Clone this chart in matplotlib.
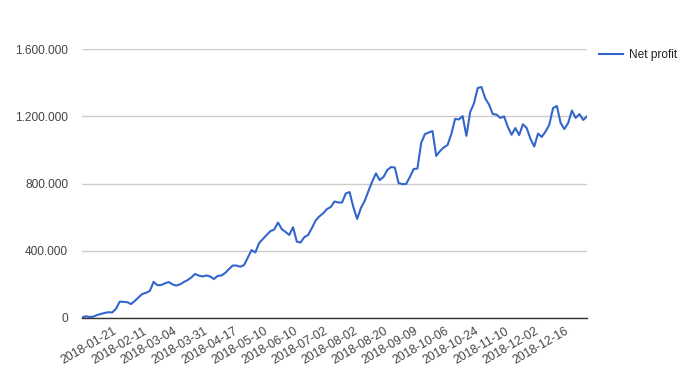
import numpy as np
import matplotlib.pyplot as plt
from matplotlib.ticker import FuncFormatter

# net profit series (one value per category)
net_profit = [3000, 10000, 6000, 8000, 18000, 24000, 30000, 34000, 33000, 54000,
              97000, 96000, 94000, 83000, 101000, 123000, 143000, 150000, 161000, 215000,
              195000, 196000, 206000, 214000, 200000, 193000, 200000, 214000, 225000, 241000,
              262000, 252000, 247000, 253000, 247000, 232000, 250000, 253000, 268000, 291000,
              312000, 312000, 305000, 315000, 360000, 404000, 390000, 446000, 470000, 494000,
              517000, 526000, 568000, 529000, 512000, 494000, 540000, 454000, 449000, 481000,
              494000, 535000, 580000, 605000, 623000, 648000, 660000, 693000, 687000, 687000,
              741000, 749000, 660000, 589000, 654000, 696000, 755000, 811000, 860000, 820000,
              839000, 880000, 898000, 895000, 803000, 796000, 797000, 839000, 886000, 889000,
              1041000, 1094000, 1103000, 1112000, 964000, 993000, 1015000, 1029000, 1094000, 1184000,
              1181000, 1201000, 1083000, 1225000, 1276000, 1368000, 1374000, 1306000, 1270000, 1213000,
              1210000, 1190000, 1199000, 1136000, 1090000, 1130000, 1088000, 1152000, 1130000, 1065000,
              1020000, 1097000, 1077000, 1109000, 1150000, 1249000, 1261000, 1160000, 1124000, 1160000,
              1234000, 1190000, 1213000, 1178000, 1199000]

tick_labels = ["2018-01-21", "2018-02-11", "2018-03-04", "2018-03-31", "2018-04-17",
               "2018-05-10", "2018-06-10", "2018-07-02", "2018-08-02", "2018-08-20",
               "2018-09-09", "2018-10-06", "2018-10-24", "2018-11-10", "2018-12-02",
               "2018-12-16"]
y_ticks = [0, 400000, 800000, 1200000, 1600000]

plt.rcParams['font.family'] = ['Liberation Sans', 'DejaVu Sans']

fig = plt.figure(figsize=(7, 3.78), dpi=100)
ax = fig.add_axes([82/700, 60/378, 505/700, 269/378])

x = np.arange(len(net_profit))
ax.plot(x, net_profit, color='#3366cc', lw=1.5, label='Net profit', solid_joinstyle='round')

# labels every 8th category, first one at index 9
tick_pos = [9 + 8*i for i in range(len(tick_labels))]
ax.set_xticks(tick_pos)
ax.set_xticklabels(tick_labels, rotation=30, ha='right', va='center',
                   rotation_mode='anchor', color='#444444', fontsize=8.8)
ax.tick_params(axis='x', length=0, pad=9)

ax.set_ylim(0, 1600000)
ax.set_xlim(0, len(net_profit) - 1)
ax.set_yticks(y_ticks)
ax.yaxis.set_major_formatter(FuncFormatter(lambda v, p: f"{int(v):,}".replace(",", ".")))
ax.tick_params(axis='y', length=0, pad=10, labelcolor='#444444', labelsize=8.6)
ax.grid(axis='y', color='#cccccc', lw=1)
ax.set_axisbelow(True)
for s in ['top', 'right', 'left']:
    ax.spines[s].set_visible(False)
ax.spines['bottom'].set_color('#333333')
ax.spines['bottom'].set_linewidth(1)

ax.legend(loc='center left', bbox_to_anchor=(599/700, 1 - 55/378), bbox_transform=fig.transFigure,
          frameon=False, handlelength=2.0, handletextpad=0.5, borderaxespad=0, borderpad=0,
          prop={'size': 8.6}, labelcolor='#222222')

fig.savefig('out.png', dpi=100)
